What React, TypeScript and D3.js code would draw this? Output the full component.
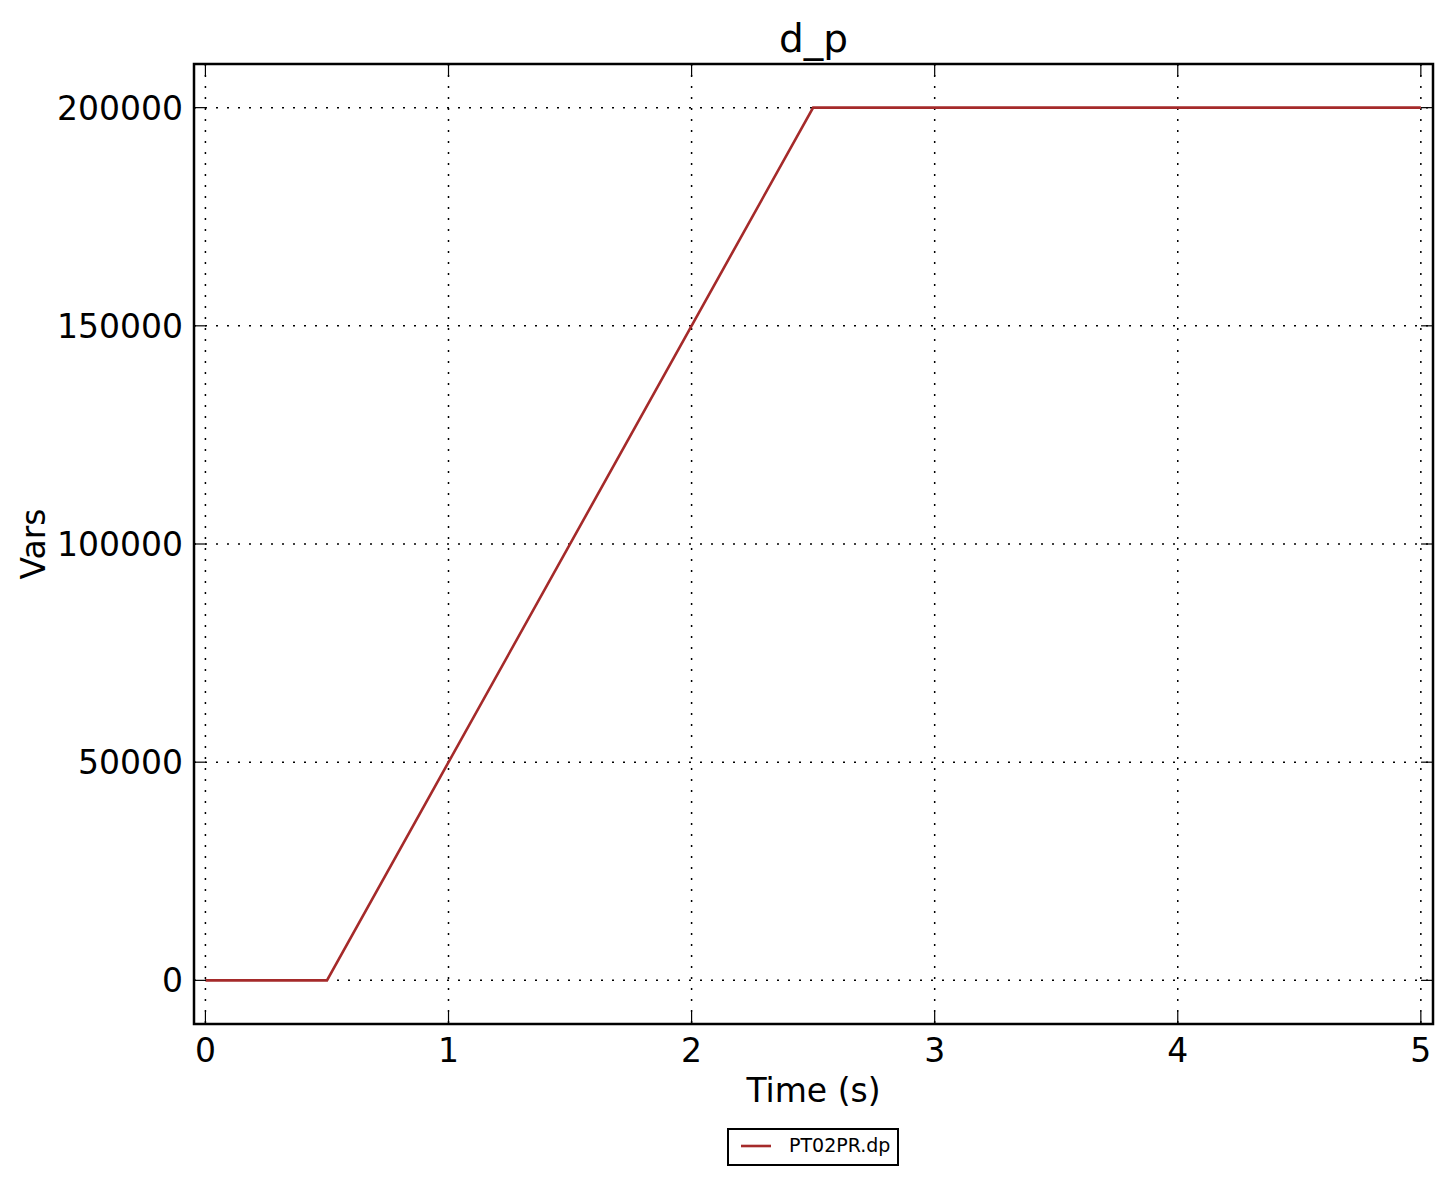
import React from "react";
import * as d3 from "d3";

const times = [0, 0.5, 2.5, 5];
const values = [0, 0, 200000, 200000];
const xTicks = [0, 1, 2, 3, 4, 5];
const yTicks = [0, 50000, 100000, 150000, 200000];
const title = "d_p";
const xLabel = "Time (s)";
const yLabel = "Vars";
const seriesName = "PT02PR.dp";

export default function App() {
  const W = 1452, H = 1184;
  const left = 194, right = 1433, top = 64, bottom = 1024;
  const x = d3.scaleLinear().domain([-0.047, 5.05]).range([left, right]);
  const y = d3.scaleLinear().domain([-10000, 210000]).range([bottom, top]);
  const line = d3.line<number>().x((_, i) => x(times[i])).y((d) => y(d));
  const font = "DejaVu Sans, sans-serif";
  const tl = 12;
  const color = "#a52a2a";
  return (
    <svg width={W} height={H} style={{ position: "absolute", left: 0, top: 0, background: "#fff" }} fontFamily={font}>
      <rect x={0} y={0} width={W} height={H} fill="#fff" />
      {xTicks.map((t) => (
        <line key={"gx" + t} x1={x(t)} x2={x(t)} y1={top} y2={bottom} stroke="#000" strokeWidth={1.5} strokeDasharray="2,9" />
      ))}
      {yTicks.map((t) => (
        <line key={"gy" + t} x1={left} x2={right} y1={y(t)} y2={y(t)} stroke="#000" strokeWidth={1.5} strokeDasharray="2,9" />
      ))}
      <path d={line(values) || ""} fill="none" stroke={color} strokeWidth={2.6} />
      {xTicks.map((t) => (
        <g key={"tx" + t}>
          <line x1={x(t)} x2={x(t)} y1={bottom} y2={bottom - tl} stroke="#000" strokeWidth={1.2} />
          <line x1={x(t)} x2={x(t)} y1={top} y2={top + tl} stroke="#000" strokeWidth={1.2} />
          <text x={x(t)} y={bottom + 38} fontSize={33} textAnchor="middle">{t}</text>
        </g>
      ))}
      {yTicks.map((t) => (
        <g key={"ty" + t}>
          <line x1={left} x2={left + tl} y1={y(t)} y2={y(t)} stroke="#000" strokeWidth={1.2} />
          <line x1={right} x2={right - tl} y1={y(t)} y2={y(t)} stroke="#000" strokeWidth={1.2} />
          <text x={left - 11} y={y(t)} dy="0.36em" fontSize={33} textAnchor="end">{t}</text>
        </g>
      ))}
      <rect x={left} y={top} width={right - left} height={bottom - top} fill="none" stroke="#000" strokeWidth={2.5} />
      <text x={(left + right) / 2} y={52} fontSize={39} textAnchor="middle">{title}</text>
      <text x={(left + right) / 2} y={1102} fontSize={33} textAnchor="middle">{xLabel}</text>
      <text transform={`translate(45, ${(top + bottom) / 2}) rotate(-90)`} fontSize={33} textAnchor="middle">{yLabel}</text>
      <g>
        <rect x={728} y={1129} width={170} height={36} fill="#fff" stroke="#000" strokeWidth={2} />
        <line x1={741} x2={771} y1={1146} y2={1146} stroke={color} strokeWidth={2.6} />
        <text x={789} y={1152} fontSize={19}>{seriesName}</text>
      </g>
    </svg>
  );
}
